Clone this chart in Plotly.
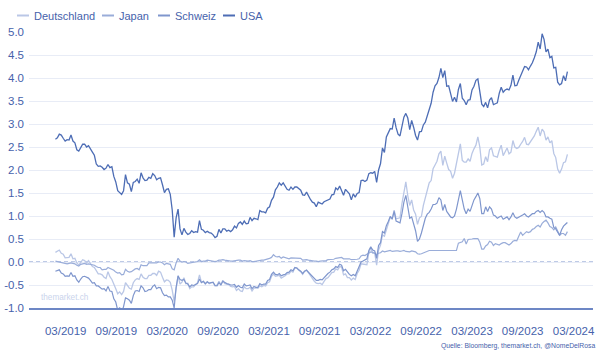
import pandas as pd
import plotly.graph_objects as go

# ---------------- data (weekly readings, first value = 2019-01-04) ----------------
start_date = "2019-01-04"

usa = [
    # 2019
    2.67, 2.70, 2.78, 2.76, 2.69, 2.63, 2.66, 2.65, 2.76, 2.63, 2.59, 2.44, 2.41,
    2.50, 2.56, 2.56, 2.50, 2.53, 2.47, 2.39, 2.32, 2.13, 2.08, 2.09, 2.06, 2.01,
    2.04, 2.12, 2.05, 2.07, 1.86, 1.74, 1.55, 1.52, 1.47, 1.55, 1.90, 1.72, 1.69,
    1.53, 1.73, 1.75, 1.80, 1.71, 1.94, 1.83, 1.77, 1.78, 1.84, 1.82, 1.92, 1.88,
    # 2020
    1.79, 1.82, 1.83, 1.68, 1.51, 1.58, 1.59, 1.47, 1.13, 0.54, 0.96, 1.15, 0.72,
    0.59, 0.73, 0.65, 0.60, 0.62, 0.68, 0.64, 0.66, 0.65, 0.90, 0.71, 0.69, 0.64,
    0.67, 0.64, 0.63, 0.59, 0.53, 0.56, 0.71, 0.63, 0.72, 0.72, 0.67, 0.69, 0.66,
    0.70, 0.78, 0.74, 0.84, 0.87, 0.82, 0.89, 0.83, 0.84, 0.97, 0.90, 0.95, 0.94,
    # 2021
    0.92, 1.12, 1.09, 1.09, 1.07, 1.17, 1.20, 1.34, 1.41, 1.57, 1.63, 1.72, 1.67,
    1.72, 1.66, 1.58, 1.56, 1.63, 1.58, 1.63, 1.63, 1.59, 1.56, 1.46, 1.45, 1.52,
    1.43, 1.36, 1.30, 1.28, 1.20, 1.30, 1.28, 1.26, 1.31, 1.33, 1.34, 1.37, 1.46,
    1.47, 1.61, 1.57, 1.65, 1.56, 1.45, 1.58, 1.54, 1.48, 1.35, 1.48, 1.41, 1.49, 1.51,
    # 2022
    1.77, 1.78, 1.75, 1.78, 1.92, 1.94, 1.93, 1.97, 1.73, 2.00, 2.14, 2.48,
    2.38, 2.72, 2.83, 2.90, 2.89, 3.13, 2.92, 2.78, 2.74, 2.94, 3.15, 3.23, 3.13,
    2.88, 3.08, 2.93, 2.75, 2.65, 2.83, 2.84, 2.98, 3.04, 3.19, 3.31, 3.45, 3.69, 3.83,
    3.88, 4.01, 4.21, 4.01, 4.16, 3.82, 3.83, 3.68, 3.49, 3.58, 3.48, 3.75, 3.88,
    # 2023
    3.56, 3.51, 3.42, 3.52, 3.53, 3.74, 3.82, 3.95, 3.98, 3.70, 3.43, 3.38, 3.47,
    3.35, 3.52, 3.57, 3.42, 3.44, 3.46, 3.67, 3.80, 3.69, 3.74, 3.76, 3.74, 3.84,
    4.06, 3.83, 3.84, 3.95, 4.04, 4.16, 4.25, 4.24, 4.18, 4.26, 4.33, 4.44, 4.57,
    4.78, 4.63, 4.96, 4.84, 4.57, 4.63, 4.44, 4.47, 4.22, 4.23, 3.91, 3.85, 3.88,
    # 2024
    4.05, 3.94, 4.14,
]

deutschland = [
    # 2019
    0.21, 0.24, 0.26, 0.19, 0.17, 0.09, 0.10, 0.10, 0.18, 0.07, 0.08, -0.02, -0.07,
    0.00, 0.05, 0.03, -0.02, 0.03, -0.05, -0.10, -0.12, -0.20, -0.26, -0.26, -0.28, -0.33,
    -0.36, -0.21, -0.32, -0.38, -0.50, -0.58, -0.69, -0.65, -0.71, -0.64, -0.45, -0.52, -0.57,
    -0.59, -0.45, -0.39, -0.36, -0.38, -0.26, -0.33, -0.36, -0.36, -0.29, -0.29, -0.25, -0.25,
    # 2020
    -0.29, -0.20, -0.22, -0.33, -0.43, -0.39, -0.40, -0.44, -0.61, -0.86, -0.54, -0.30, -0.48,
    -0.44, -0.34, -0.47, -0.46, -0.58, -0.54, -0.54, -0.49, -0.45, -0.28, -0.44, -0.42, -0.48,
    -0.43, -0.47, -0.45, -0.45, -0.52, -0.50, -0.42, -0.49, -0.40, -0.47, -0.48, -0.49, -0.53,
    -0.54, -0.53, -0.62, -0.58, -0.63, -0.64, -0.54, -0.58, -0.58, -0.55, -0.63, -0.57, -0.56,
    # 2021
    -0.57, -0.52, -0.54, -0.51, -0.52, -0.45, -0.43, -0.31, -0.26, -0.31, -0.30, -0.29, -0.35,
    -0.33, -0.30, -0.26, -0.26, -0.20, -0.22, -0.13, -0.13, -0.18, -0.21, -0.27, -0.20, -0.17,
    -0.24, -0.29, -0.35, -0.42, -0.46, -0.47, -0.46, -0.49, -0.42, -0.36, -0.34, -0.28, -0.23,
    -0.22, -0.15, -0.17, -0.10, -0.11, -0.28, -0.26, -0.34, -0.34, -0.39, -0.35, -0.38, -0.25, -0.18,
    # 2022
    -0.04, -0.05, -0.06, -0.06, 0.21, 0.30, 0.19, 0.20, -0.07, 0.26, 0.37, 0.59,
    0.56, 0.71, 0.84, 0.97, 0.94, 1.13, 0.94, 0.95, 0.96, 1.27, 1.51, 1.74, 1.44,
    1.23, 1.35, 1.13, 1.04, 0.82, 0.96, 0.99, 1.23, 1.40, 1.54, 1.72, 1.77, 2.03, 2.11,
    2.19, 2.35, 2.41, 2.10, 2.30, 2.15, 2.01, 1.97, 1.82, 1.93, 2.15, 2.37, 2.57,
    # 2023
    2.21, 2.17, 2.17, 2.24, 2.19, 2.36, 2.46, 2.54, 2.72, 2.50, 2.11, 2.13, 2.29,
    2.18, 2.44, 2.48, 2.31, 2.29, 2.28, 2.43, 2.54, 2.31, 2.38, 2.48, 2.35, 2.39,
    2.64, 2.50, 2.47, 2.49, 2.56, 2.62, 2.71, 2.56, 2.55, 2.61, 2.68, 2.74, 2.84,
    2.93, 2.74, 2.89, 2.83, 2.65, 2.72, 2.59, 2.64, 2.36, 2.27, 2.02, 1.93, 2.02,
    # 2024
    2.16, 2.18, 2.34,
]

schweiz = [
    # 2019
    -0.20, -0.18, -0.17, -0.24, -0.26, -0.31, -0.30, -0.31, -0.23, -0.31, -0.30, -0.39, -0.44,
    -0.37, -0.32, -0.31, -0.34, -0.35, -0.40, -0.46, -0.45, -0.52, -0.52, -0.56, -0.59, -0.58,
    -0.63, -0.53, -0.63, -0.64, -0.80, -0.87, -1.05, -0.99, -1.10, -0.97, -0.78, -0.80, -0.83,
    -0.90, -0.73, -0.63, -0.62, -0.64, -0.52, -0.56, -0.64, -0.63, -0.60, -0.60, -0.53, -0.50,
    # 2020
    -0.58, -0.55, -0.56, -0.67, -0.73, -0.72, -0.76, -0.76, -0.83, -1.00, -0.55, -0.30, -0.38,
    -0.40, -0.38, -0.46, -0.48, -0.54, -0.50, -0.51, -0.49, -0.47, -0.37, -0.45, -0.42, -0.47,
    -0.43, -0.46, -0.45, -0.44, -0.51, -0.52, -0.45, -0.50, -0.42, -0.45, -0.47, -0.48, -0.50,
    -0.50, -0.49, -0.55, -0.51, -0.55, -0.56, -0.48, -0.52, -0.51, -0.50, -0.58, -0.53, -0.55,
    # 2021
    -0.55, -0.47, -0.50, -0.48, -0.48, -0.40, -0.38, -0.27, -0.22, -0.27, -0.28, -0.25, -0.30,
    -0.28, -0.27, -0.23, -0.22, -0.17, -0.19, -0.12, -0.13, -0.17, -0.20, -0.25, -0.20, -0.18,
    -0.22, -0.28, -0.32, -0.36, -0.40, -0.40, -0.38, -0.39, -0.34, -0.28, -0.25, -0.22, -0.17,
    -0.15, -0.10, -0.12, -0.05, -0.07, -0.19, -0.16, -0.22, -0.27, -0.30, -0.27, -0.30, -0.20, -0.13,
    # 2022
    0.00, 0.02, 0.05, 0.07, 0.25, 0.33, 0.26, 0.24, 0.08, 0.36, 0.42, 0.66,
    0.63, 0.79, 0.88, 0.99, 0.93, 1.10, 0.89, 0.87, 0.85, 1.05, 1.30, 1.45, 1.20,
    0.95, 0.98, 0.85, 0.68, 0.45, 0.50, 0.63, 0.80, 0.95, 1.04, 1.08, 1.15, 1.25, 1.25,
    1.28, 1.40, 1.35, 1.12, 1.25, 1.10, 1.05, 0.98, 0.96, 1.00, 1.15, 1.35, 1.55,
    # 2023
    1.35, 1.15, 1.05, 1.15, 1.10, 1.25, 1.35, 1.42, 1.50, 1.38, 1.05, 1.05, 1.20,
    1.10, 1.20, 1.15, 1.02, 1.00, 0.95, 0.98, 1.00, 0.93, 0.95, 0.98, 0.92, 0.98,
    1.07, 0.98, 0.95, 0.97, 1.00, 1.02, 1.05, 1.00, 0.98, 1.02, 1.05, 1.05, 1.10,
    1.12, 1.08, 1.12, 1.08, 0.98, 0.98, 0.95, 0.93, 0.75, 0.72, 0.65, 0.58, 0.70,
    # 2024
    0.78, 0.82, 0.86,
]

japan = [
    # 2019
    0.02, 0.01, 0.01, 0.00, -0.02, -0.03, -0.04, -0.03, -0.02, -0.03, -0.04, -0.07, -0.09,
    -0.05, -0.04, -0.03, -0.05, -0.04, -0.05, -0.06, -0.07, -0.10, -0.12, -0.12, -0.17, -0.16,
    -0.16, -0.12, -0.14, -0.15, -0.18, -0.22, -0.24, -0.23, -0.28, -0.27, -0.16, -0.20, -0.22,
    -0.21, -0.17, -0.15, -0.14, -0.17, -0.06, -0.08, -0.08, -0.08, -0.02, -0.02, -0.01, -0.02,
    # 2020
    -0.02, 0.00, 0.00, -0.02, -0.06, -0.03, -0.04, -0.05, -0.15, -0.17, -0.02, 0.08, 0.02,
    0.00, 0.01, 0.00, -0.03, -0.02, -0.01, 0.00, 0.00, 0.01, 0.05, 0.01, 0.02, 0.02,
    0.04, 0.03, 0.02, 0.02, 0.01, 0.02, 0.04, 0.04, 0.05, 0.04, 0.03, 0.02, 0.02,
    0.02, 0.03, 0.03, 0.04, 0.04, 0.02, 0.03, 0.02, 0.02, 0.03, 0.01, 0.01, 0.02,
    # 2021
    0.02, 0.04, 0.04, 0.04, 0.05, 0.06, 0.08, 0.10, 0.16, 0.12, 0.11, 0.12, 0.08,
    0.11, 0.10, 0.08, 0.07, 0.09, 0.09, 0.09, 0.08, 0.08, 0.08, 0.04, 0.05, 0.05,
    0.04, 0.03, 0.02, 0.02, 0.02, 0.01, 0.02, 0.02, 0.02, 0.03, 0.05, 0.05, 0.06,
    0.06, 0.08, 0.09, 0.09, 0.10, 0.07, 0.07, 0.07, 0.07, 0.05, 0.05, 0.05, 0.06, 0.07,
    # 2022
    0.13, 0.15, 0.14, 0.17, 0.20, 0.22, 0.21, 0.19, 0.16, 0.19, 0.20, 0.24,
    0.22, 0.23, 0.24, 0.25, 0.23, 0.24, 0.24, 0.24, 0.23, 0.24, 0.25, 0.23, 0.23,
    0.22, 0.24, 0.23, 0.22, 0.18, 0.17, 0.18, 0.20, 0.22, 0.24, 0.25, 0.25, 0.25, 0.24,
    0.25, 0.25, 0.25, 0.24, 0.25, 0.24, 0.25, 0.25, 0.25, 0.25, 0.25, 0.41, 0.42,
    # 2023
    0.44, 0.51, 0.39, 0.49, 0.49, 0.50, 0.51, 0.51, 0.51, 0.43, 0.28, 0.28, 0.35,
    0.38, 0.45, 0.43, 0.36, 0.40, 0.38, 0.37, 0.40, 0.42, 0.42, 0.40, 0.37, 0.40,
    0.45, 0.47, 0.46, 0.56, 0.65, 0.58, 0.63, 0.66, 0.64, 0.66, 0.71, 0.73, 0.77,
    0.80, 0.76, 0.84, 0.88, 0.91, 0.85, 0.77, 0.75, 0.70, 0.76, 0.67, 0.58, 0.62,
    # 2024
    0.62, 0.58, 0.66,
]

tick_dates = ["2019-02-10", "2019-08-11", "2020-02-10", "2020-08-11", "2021-02-10",
              "2021-08-11", "2022-02-10", "2022-08-11", "2023-02-10", "2023-08-11",
              "2024-02-10"]
tick_labels = ["03/2019", "09/2019", "03/2020", "09/2020", "03/2021", "09/2021",
               "03/2022", "09/2022", "03/2023", "09/2023", "03/2024"]
y_ticks = [-1.0, -0.5, 0.0, 0.5, 1.0, 1.5, 2.0, 2.5, 3.0, 3.5, 4.0, 4.5, 5.0]
y_labels = ["-1.0", "-0.5", "0.0", "0.5", "1.0", "1.5", "2.0", "2.5",
            "3.0", "3.5", "4.0", "4.5", "5.0"]

# ---------------- styling ----------------
W, H = 604, 356
ML, MR, MT, MB = 29, 11, 32, 48
PW, PH = W - ML - MR, H - MT - MB

TEXT = "#4662ab"
GRID = "#e8ecf6"
AXIS = "#6d87c5"
ZERO = "#7d95cd"
FONT = "Liberation Sans, Arial, Helvetica, sans-serif"

series = [
    ("Deutschland", deutschland, "#bac7e6", 1.3),
    ("Japan", japan, "#9aadd9", 1.2),
    ("Schweiz", schweiz, "#7f96cd", 1.2),
    ("USA", usa, "#4d6db5", 1.3),
]
# legend layout (pixel positions of the swatch start for each entry)
legend_swatch_px = [17, 102, 158, 223]
legend_y_px = 15.5


def px_x(px):
    return (px - ML) / PW


def px_y(py):
    return (H - MB - py) / PH


fig = go.Figure()
for name, vals, color, width in series:
    dates = pd.date_range(start_date, periods=len(vals), freq="7D")
    fig.add_trace(go.Scatter(
        x=dates, y=vals, mode="lines", name=name,
        line=dict(color=color, width=width), showlegend=False,
    ))

# compact legend, as in the original
for (name, _vals, color, _w), sx in zip(series, legend_swatch_px):
    fig.add_shape(type="line", xref="paper", yref="paper",
                  x0=px_x(sx), x1=px_x(sx + 12), y0=px_y(legend_y_px), y1=px_y(legend_y_px),
                  line=dict(color=color, width=2))
    fig.add_annotation(text=name, xref="paper", yref="paper",
                       x=px_x(sx + 15), xanchor="left", y=px_y(legend_y_px), yanchor="middle",
                       showarrow=False, font=dict(size=11, color=TEXT, family=FONT))

fig.add_shape(type="line", xref="paper", x0=0, x1=1, yref="y", y0=0, y1=0,
              line=dict(color=ZERO, width=1, dash="4px,3px"), layer="below")

fig.add_annotation(text="themarket.ch", xref="paper", x=0.018, xanchor="left",
                   yref="y", y=-0.78, yanchor="middle", showarrow=False,
                   font=dict(size=8.2, color="#cad4ec", family=FONT))
fig.add_annotation(text="Quelle: Bloomberg, themarket.ch, @NomeDelRosa",
                   xref="paper", x=px_x(597), xanchor="right",
                   yref="paper", y=px_y(345.5), yanchor="middle", showarrow=False,
                   font=dict(size=6.8, color=TEXT, family=FONT))

fig.update_layout(
    width=W, height=H,
    margin=dict(l=ML, r=MR, t=MT, b=MB, autoexpand=False),
    paper_bgcolor="white", plot_bgcolor="white",
    font=dict(family=FONT, color=TEXT, size=11.5),
    showlegend=False,
)
fig.update_xaxes(type="date", range=["2018-10-01", "2024-04-20"],
                 tickmode="array", tickvals=tick_dates, ticktext=tick_labels,
                 showgrid=False, zeroline=False, showline=True,
                 linecolor=AXIS, linewidth=2, ticks="", ticklabelstandoff=11,
                 tickfont=dict(size=11.5, color=TEXT))
fig.update_yaxes(range=[-1, 5], tickmode="array", tickvals=y_ticks, ticktext=y_labels,
                 showgrid=True, gridcolor=GRID, gridwidth=1, zeroline=False,
                 showline=False, ticks="", ticklabelstandoff=4,
                 tickfont=dict(size=11.5, color=TEXT))

fig.write_html("out.html", config={"displayModeBar": False},
               post_script="document.body.style.margin='0';document.body.style.overflow='hidden';")
